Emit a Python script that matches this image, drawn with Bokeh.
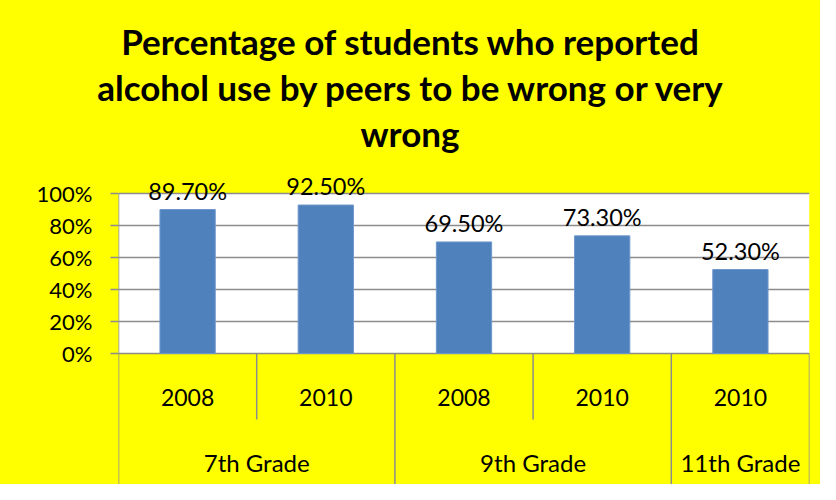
from bokeh.plotting import figure
from bokeh.layouts import column
from bokeh.models import FixedTicker, PrintfTickFormatter, BoxAnnotation, ColumnDataSource, Div
from bokeh.core.properties import value
from bokeh.embed import file_html
from bokeh.resources import INLINE

# ---- data ----
grades = ["7th Grade", "7th Grade", "9th Grade", "9th Grade", "11th Grade"]
years = ["2008", "2010", "2008", "2010", "2010"]
values = [89.7, 92.5, 69.5, 73.3, 52.3]
y_ticks = [0, 20, 40, 60, 80, 100]
title_lines = ["Percentage of students who reported",
               "alcohol use by peers to be wrong or very",
               "wrong"]

YELLOW = "#FFFF00"
GRAY = "#8C8C8C"
BLUE = "#4F81BD"
FONT = value("Lato")

W, H = 820, 484
TITLE_H = 160
ZERO_PX = 353.0        # y of 0%
PX_PER = 1.605         # px per percentage point
FRAME_LEFT = 118
FRAME_RIGHT = 809

def v_of(py):
    return (ZERO_PX - py) / PX_PER

n = len(values)

# ---- title ----
title_html = ('<div style="width:%dpx;height:%dpx;box-sizing:border-box;padding-top:18px;'
              'background:%s;font-family:Lato;font-weight:bold;font-size:35px;'
              'line-height:46px;text-align:center;color:#000;">%s</div>'
              % (W, TITLE_H + 1, YELLOW, "<br>".join(title_lines)))
t = Div(text=title_html, width=W, height=TITLE_H,
        styles={"background-color": YELLOW, "margin": "0", "padding": "0"})

# ---- chart ----
p = figure(width=W, height=H - TITLE_H, output_backend="svg", toolbar_location=None,
           x_range=(0, n), y_range=(v_of(H), v_of(TITLE_H)),
           x_axis_type=None)
p.min_border_top = 0
p.min_border_bottom = 0
p.min_border_left = FRAME_LEFT
p.min_border_right = W - FRAME_RIGHT
p.background_fill_color = None
p.border_fill_color = YELLOW
p.outline_line_color = None
p.xgrid.visible = False

yax = p.yaxis[0]
yax.ticker = FixedTicker(ticks=y_ticks)
yax.formatter = PrintfTickFormatter(format="%d%%")
yax.axis_line_color = None
yax.major_tick_out = 8
yax.major_tick_in = 0
yax.major_tick_line_color = GRAY
yax.major_tick_line_width = 1.5
yax.minor_tick_line_color = None
yax.major_label_standoff = 18
yax.major_label_text_font = "Lato"
yax.major_label_text_font_size = "22px"
yax.major_label_text_color = "#000000"

p.ygrid.ticker = FixedTicker(ticks=y_ticks)
p.ygrid.grid_line_color = GRAY
p.ygrid.grid_line_width = 1.5

p.add_layout(BoxAnnotation(left=0, right=n, bottom=0, top=max(y_ticks),
                           fill_color="white", fill_alpha=1, line_color=None,
                           level="image"))

xc = [i + 0.5 for i in range(n)]
src = ColumnDataSource(dict(x=xc, top=values,
                            lab=["%.2f%%" % v for v in values],
                            year=years))
p.vbar(x="x", top="top", bottom=0, width=0.4, source=src,
       fill_color=BLUE, line_color="#6F97CB", line_width=1)
p.text(x="x", y="top", text="lab", source=src, text_align="center",
       text_baseline="alphabetic", y_offset=-19, text_font=FONT,
       text_font_size="23.5px", text_color="#000000")

p.text(x="x", y=v_of(397), text="year", source=src, text_align="center",
       text_baseline="middle", text_font=FONT, text_font_size="23px",
       text_color="#000000")

groups = []
for i, g in enumerate(grades):
    if not groups or groups[-1][0] != g:
        groups.append([g, i, i + 1])
    else:
        groups[-1][2] = i + 1
p.text(x=[(a + b) / 2 for _, a, b in groups], y=[v_of(462)] * len(groups),
       text=[g for g, _, _ in groups], text_align="center",
       text_baseline="middle", text_font=FONT, text_font_size="24px",
       text_color="#000000")

full_x = sorted(set([a for _, a, _ in groups] + [b for _, _, b in groups]))
inner_x = [i for i in range(1, n) if i not in full_x]
p.segment(x0=full_x, x1=full_x, y0=[0] * len(full_x),
          y1=[v_of(484)] * len(full_x), line_color=GRAY, line_width=1.5)
p.segment(x0=inner_x, x1=inner_x, y0=[0] * len(inner_x),
          y1=[v_of(419)] * len(inner_x), line_color=GRAY, line_width=1.5)
p.segment(x0=[0], x1=[0], y0=[0], y1=[max(y_ticks)], line_color=GRAY,
          line_width=1.5)

layout = column(t, p, spacing=0, styles={"background-color": YELLOW})
open("out.html", "w").write(file_html(layout, INLINE))
